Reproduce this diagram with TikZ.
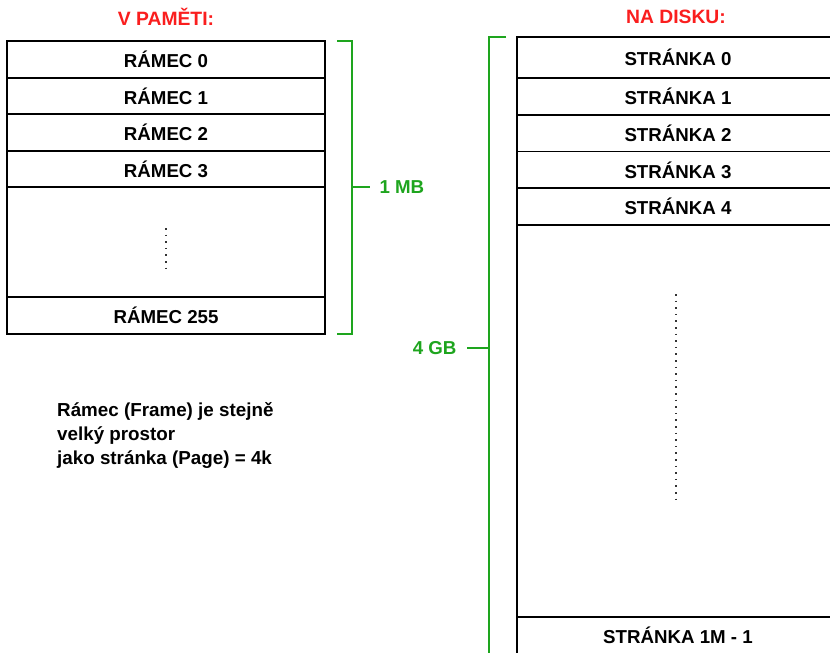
\documentclass[tikz,border=0pt]{standalone}
\usepackage{fontspec}
\setmainfont{Liberation Sans}
\definecolor{brgreen}{RGB}{30,165,30}
\definecolor{ttred}{RGB}{250,30,30}
\begin{document}
\begin{tikzpicture}[x=1pt,y=-1pt,
  cell/.style={draw=black, line width=1.8pt, fill=white, inner sep=0pt, font=\fontsize{18.7}{20}\selectfont\bfseries},
  lcell/.style={cell, minimum width=318pt},
  rcell/.style={cell, minimum width=322pt},
  title/.style={text=ttred, font=\fontsize{19.3}{21}\selectfont\bfseries},
  brace/.style={draw=brgreen, line width=1.8pt},
  blabel/.style={text=brgreen, font=\fontsize{18.7}{20}\selectfont\bfseries},
  vdots/.style={line width=1.6pt, dash pattern=on 1.6pt off 5pt, black!80}]
\fill[white] (0,0) rectangle (830,653);
\useasboundingbox (0,0) rectangle (830,653);
\clip (0,0) rectangle (830,653);
% titles
\node[title] (t1) at (166,17) {V PAMĚTI:};
\node[title] (t2) at (676,17) {NA DISKU:};
% memory frames
\node[lcell, minimum height=37pt] (r0) at (166,59.5) {RÁMEC 0};
\node[lcell, minimum height=36pt] (r1) at (166,96) {RÁMEC 1};
\node[lcell, minimum height=37pt] (r2) at (166,132.5) {RÁMEC 2};
\node[lcell, minimum height=36pt] (r3) at (166,169) {RÁMEC 3};
\node[lcell, minimum height=110pt] (rgap) at (166,242) {};
\node[lcell, minimum height=37pt] (r255) at (166,315.5) {RÁMEC 255};
\coordinate (ld1) at (166,228);
\coordinate (ld2) at (166,268);
\draw[vdots] (ld1) -- (ld2);
% disk pages
\node[rcell, minimum height=41pt] (s0) at (678,57.5) {STRÁNKA 0};
\node[rcell, minimum height=37pt] (s1) at (678,96.5) {STRÁNKA 1};
\node[rcell, minimum height=37pt] (s2) at (678,133.5) {STRÁNKA 2};
\node[rcell, minimum height=37pt] (s3) at (678,170) {STRÁNKA 3};
\node[rcell, minimum height=37pt] (s4) at (678,206.5) {STRÁNKA 4};
\node[rcell, minimum height=392pt] (sgap) at (678,421) {};
\node[rcell, minimum height=37pt] (sl) at (678,635.5) {STRÁNKA 1M - 1};
\coordinate (rd1) at (676,294);
\coordinate (rd2) at (676,504);
\draw[vdots] (rd1) -- (rd2);
% 1 MB bracket
\coordinate (b1a) at (337,41);
\coordinate (b1b) at (352,41);
\coordinate (b1c) at (352,334);
\coordinate (b1d) at (337,334);
\coordinate (b1m) at (352,187);
\coordinate (b1t) at (370,187);
\draw[brace] (b1a) -- (b1b) -- (b1c) -- (b1d);
\draw[brace] (b1m) -- (b1t);
\node[blabel, anchor=west] (mb) at (376,187) {1 MB};
% 4 GB bracket
\coordinate (b2a) at (506,37);
\coordinate (b2b) at (489,37);
\coordinate (b2c) at (489,654);
\coordinate (b2d) at (506,654);
\coordinate (b2m) at (489,348);
\coordinate (b2t) at (467,348);
\draw[brace] (b2a) -- (b2b) -- (b2c) -- (b2d);
\draw[brace] (b2m) -- (b2t);
\node[blabel, anchor=east] (gb) at (460,348) {4 GB};
% note
\node[anchor=north west, align=left, inner sep=0pt, font=\fontsize{18.8}{24}\selectfont\bfseries] (note) at (57,402) {Rámec (Frame) je stejně\\velký prostor\\jako stránka (Page) = 4k};
\end{tikzpicture}
\end{document}
